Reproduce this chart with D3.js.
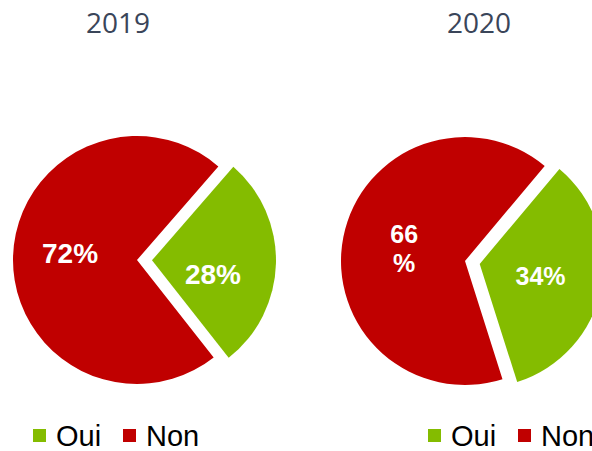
<!DOCTYPE html>
<html>
<head>
<meta charset="utf-8">
<script src="https://cdnjs.cloudflare.com/ajax/libs/d3/7.8.5/d3.min.js"></script>
<style>
  body { margin: 0; background: #fff; }
  svg { display: block; }
</style>
</head>
<body>
<div id="chart"></div>
<script>
// données
const years = ['2019', '2020']
const categories = ['Oui', 'Non']
const ouiValues = [28, 34]
const nonValues = [72, 66]
const colors = ['#84bc00', '#c00000']

// mise en page de chaque camembert (nudge = décalage [dx, dy] des étiquettes Oui / Non)
const layout = [
  { cx: 137, cy: 260, r: 124, start: 41, titleX: 118, legendX: 33, labelSize: 28, nudge: [[-1, 12], [-5, -5]], wrap: [false, false] },
  { cx: 465, cy: 261, r: 124, start: 40, titleX: 479, legendX: 428, labelSize: 25, nudge: [[0, 0], [0, 0]], wrap: [false, true] }
]

const width = 592
const height = 451
const explode = 15

const svg = d3.select('#chart')
  .append('svg')
  .attr('width', width)
  .attr('height', height)

const color = d3.scaleOrdinal(categories, colors)

years.forEach((year, i) => {
  const L = layout[i]
  const data = categories.map((c, j) => ({ cat: c, value: j === 0 ? ouiValues[i] : nonValues[i], j }))

  const pie = d3.pie().value(d => d.value).sort(null)
    .startAngle(L.start * Math.PI / 180)
    .endAngle(L.start * Math.PI / 180 + 2 * Math.PI)
  const arc = d3.arc().innerRadius(0).outerRadius(L.r)
  const labelArc = d3.arc().innerRadius(L.r * 0.5).outerRadius(L.r * 0.5)

  const g = svg.append('g').attr('transform', `translate(${L.cx},${L.cy})`)

  const slices = g.selectAll('g.slice').data(pie(data)).enter().append('g')
    .attr('class', 'slice')
    .attr('transform', d => {
      if (d.data.j !== 0) return null
      const a = (d.startAngle + d.endAngle) / 2
      return `translate(${Math.sin(a) * explode},${-Math.cos(a) * explode})`
    })

  slices.append('path')
    .attr('d', arc)
    .attr('fill', d => color(d.data.cat))

  slices.each(function (d) {
    const [x0, y0] = labelArc.centroid(d)
    const x = x0 + L.nudge[d.data.j][0]
    const y = y0 + L.nudge[d.data.j][1]
    const t = d3.select(this).append('text')
      .attr('text-anchor', 'middle')
      .attr('fill', '#fff')
      .attr('font-family', '"Liberation Sans", Arial, sans-serif')
      .attr('font-weight', 'bold')
      .attr('font-size', L.labelSize)
    if (L.wrap[d.data.j]) {
      t.append('tspan').attr('x', x).attr('y', y - 14.5).attr('dy', '0.35em').text(d.data.value)
      t.append('tspan').attr('x', x).attr('y', y + 14.5).attr('dy', '0.35em').text('%')
    } else {
      t.attr('x', x).attr('y', y).attr('dy', '0.35em').text(d.data.value + '%')
    }
  })

  // titre
  svg.append('text')
    .attr('x', L.titleX)
    .attr('y', 33)
    .attr('text-anchor', 'middle')
    .attr('fill', '#3a4559')
    .attr('font-family', '"Open Sans", sans-serif')
    .attr('font-size', 28)
    .text(year)

  // légende
  const leg = svg.append('g').attr('transform', `translate(${L.legendX},0)`)
  categories.forEach((c, j) => {
    leg.append('rect')
      .attr('x', j * 90)
      .attr('y', 429)
      .attr('width', 13)
      .attr('height', 13)
      .attr('fill', color(c))
    leg.append('text')
      .attr('x', j * 90 + 23)
      .attr('y', 446)
      .attr('fill', '#000')
      .attr('font-family', '"Liberation Sans", Arial, sans-serif')
      .attr('font-size', 29)
      .text(c)
  })
})
</script>
</body>
</html>
